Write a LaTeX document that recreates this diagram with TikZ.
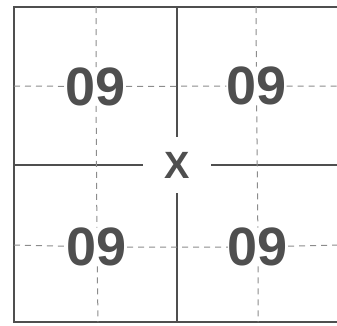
\documentclass[tikz,border=0pt]{standalone}
\usepackage{fontspec}
\setmainfont{Liberation Sans}
\usetikzlibrary{positioning}
\definecolor{inkgrey}{HTML}{4F4F4F}
\definecolor{dashgrey}{HTML}{8C8C8C}

\begin{document}
\begin{tikzpicture}[x=1pt, y=-1pt,
  frame/.style={draw=inkgrey, line width=2.2pt},
  midline/.style={draw=inkgrey, line width=1.5pt},
  guide/.style={draw=dashgrey, line width=1pt, dash pattern=on 6pt off 5pt},
  num/.style={inner sep=0pt, text=inkgrey, font=\fontsize{54}{54}\selectfont\bfseries},
  cross/.style={inner sep=0pt, minimum width=68pt, minimum height=56pt,
                text=inkgrey, font=\fontsize{38}{38}\selectfont\bfseries},
]
\useasboundingbox (0,0) rectangle (337,325);
% frame corners and edge points
\coordinate (tl) at (14,7);
\coordinate (tr) at (337,7);
\coordinate (bl) at (14,322);
\coordinate (br) at (337,322);
\coordinate (tm) at (177,7);
\coordinate (bm) at (177,322);
\coordinate (lm) at (14,165);
\coordinate (rm) at (337,165);
% dashed guide ends
\coordinate (ga) at (96,7);
\coordinate (gb) at (98,322);
\coordinate (gc) at (256,7);
\coordinate (gd) at (258,322);
\coordinate (ge) at (14,86);
\coordinate (gf) at (337,86);
\coordinate (gg) at (14,245);
\coordinate (gh) at (337,245);
% labels
\node[cross] (x) at (177,165) {X};
\node[num] (n1) at (96,86.5) {09};
\node[num] (n2) at (256.5,86) {09};
\node[num] (n3) at (97,247) {09};
\node[num] (n4) at (258,247) {09};
% outer frame
\draw[frame] (tr) -- (tl) -- (bl) -- (br);
% centre lines
\draw[midline] (tm) -- (x);
\draw[midline] (bm) -- (x);
\draw[midline] (lm) -- (x);
\draw[midline] (rm) -- (x);
% dashed guides
\draw[guide] (ga) -- (n1) (n1) -- (n3) (n3) -- (gb);
\draw[guide] (gc) -- (n2) (n2) -- (n4) (n4) -- (gd);
\draw[guide] (ge) -- (n1) (n1) -- (n2) (n2) -- (gf);
\draw[guide] (gg) -- (n3) (n3) -- (n4) (n4) -- (gh);
\end{tikzpicture}
\end{document}
